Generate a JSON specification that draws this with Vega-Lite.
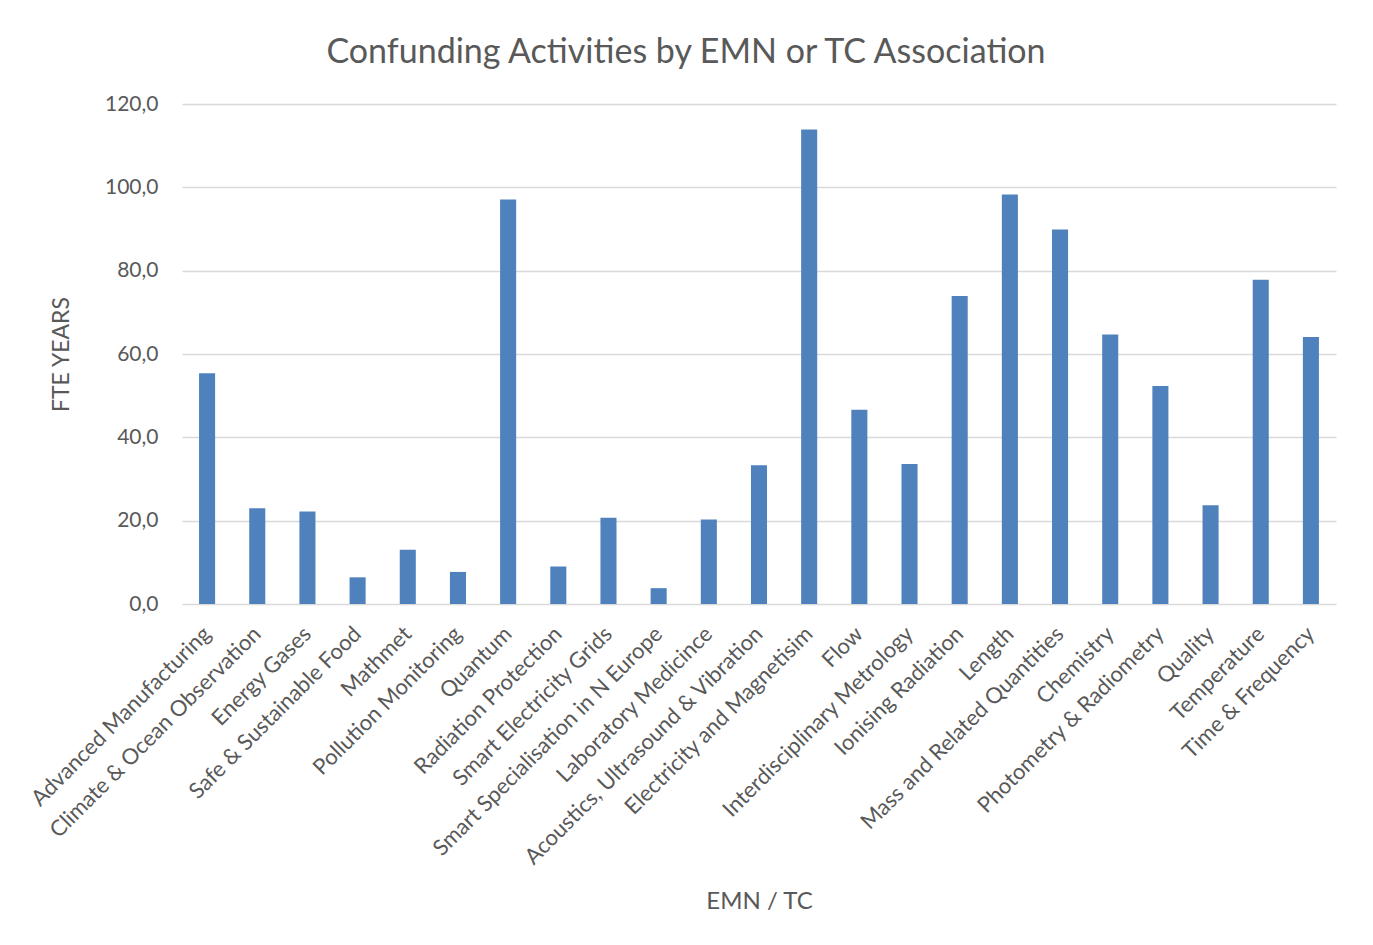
{
  "$schema": "https://vega.github.io/schema/vega-lite/v6.json",
  "autosize": {"type": "none"},
  "width": 1154,
  "height": 500,
  "padding": {"left": 182, "top": 104, "right": 37, "bottom": 341},
  "background": "white",
  "title": {
    "text": "Confunding Activities by EMN or TC Association",
    "font": "Lato",
    "fontSize": 34,
    "fontWeight": "normal",
    "color": "#595959",
    "anchor": "middle",
    "frame": "group",
    "dx": -73,
    "offset": 23
  },
  "data": {
    "values": [
      {"group": "Advanced Manufacturing", "fte": 55.4},
      {"group": "Climate & Ocean Observation", "fte": 23.0},
      {"group": "Energy Gases", "fte": 22.2},
      {"group": "Safe & Sustainable Food", "fte": 6.4},
      {"group": "Mathmet", "fte": 13.0},
      {"group": "Pollution Monitoring", "fte": 7.7},
      {"group": "Quantum", "fte": 97.1},
      {"group": "Radiation Protection", "fte": 9.0},
      {"group": "Smart Electricity Grids", "fte": 20.7},
      {"group": "Smart Specialisation in N Europe", "fte": 3.8},
      {"group": "Laboratory Medicince", "fte": 20.3},
      {"group": "Acoustics, Ultrasound & Vibration", "fte": 33.3},
      {"group": "Electricity and Magnetisim", "fte": 113.9},
      {"group": "Flow", "fte": 46.6},
      {"group": "Interdisciplinary Metrology", "fte": 33.6},
      {"group": "Ionising Radiation", "fte": 73.9},
      {"group": "Length", "fte": 98.3},
      {"group": "Mass and Related Quantities", "fte": 89.9},
      {"group": "Chemistry", "fte": 64.7},
      {"group": "Photometry & Radiometry", "fte": 52.3},
      {"group": "Quality", "fte": 23.7},
      {"group": "Temperature", "fte": 77.8},
      {"group": "Time & Frequency", "fte": 64.1}
    ]
  },
  "mark": {"type": "bar", "color": "#4f81bd"},
  "encoding": {
    "x": {
      "field": "group",
      "type": "nominal",
      "sort": null,
      "scale": {"paddingInner": 0.68, "paddingOuter": 0.34},
      "axis": {
        "title": "EMN / TC",
        "titleFont": "Lato",
        "titleFontSize": 24,
        "titleFontWeight": "normal",
        "titleColor": "#595959",
        "titlePadding": 85,
        "labelAngle": -45,
        "labelAlign": "right",
        "labelBaseline": "middle",
        "labelFont": "Lato",
        "labelFontSize": 22,
        "labelColor": "#595959",
        "labelPadding": 26,
        "labelOverlap": false,
        "labelLimit": 0,
        "ticks": false,
        "domain": false,
        "grid": false
      }
    },
    "y": {
      "field": "fte",
      "type": "quantitative",
      "scale": {"domain": [0, 120], "nice": false},
      "axis": {
        "title": "FTE YEARS",
        "titleFont": "Lato",
        "titleFontSize": 23,
        "titleFontWeight": "normal",
        "titleColor": "#595959",
        "titlePadding": 31,
        "values": [0, 20, 40, 60, 80, 100, 120],
        "labelExpr": "replace(format(datum.value, '.1f'), '.', ',')",
        "labelFont": "Lato",
        "labelFontSize": 21,
        "labelColor": "#595959",
        "labelPadding": 24,
        "ticks": false,
        "domain": false,
        "grid": true,
        "gridColor": "#d9d9d9",
        "gridWidth": 1.5
      }
    }
  },
  "config": {"view": {"stroke": null}}
}
